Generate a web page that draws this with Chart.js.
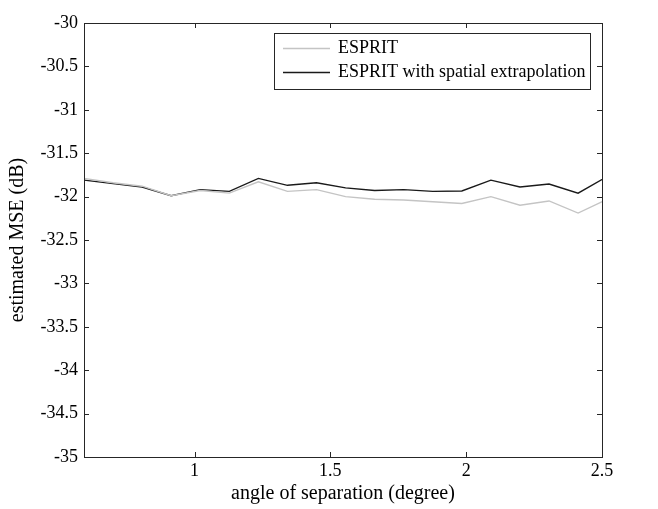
<!DOCTYPE html>
<html><head><meta charset="utf-8">
<script src="https://cdn.jsdelivr.net/npm/chart.js@4.4.0/dist/chart.umd.min.js"></script>
<style>html,body{margin:0;padding:0;background:#fff;}</style>
</head><body>
<canvas id="c" width="658" height="509"></canvas>
<script>
const angles = [0.593,0.700,0.807,0.914,1.021,1.128,1.235,1.342,1.449,1.556,1.663,1.770,1.877,1.984,2.091,2.198,2.305,2.412,2.519];
const esprit = [-31.79,-31.84,-31.88,-31.99,-31.93,-31.96,-31.83,-31.94,-31.92,-32.00,-32.03,-32.04,-32.06,-32.08,-32.00,-32.10,-32.05,-32.19,-32.03];
const espritExtrap = [-31.81,-31.85,-31.89,-31.99,-31.92,-31.94,-31.79,-31.87,-31.84,-31.90,-31.93,-31.92,-31.94,-31.935,-31.81,-31.89,-31.855,-31.96,-31.77];
const xTicks = [1, 1.5, 2, 2.5];
const yTicks = [-35, -34.5, -34, -33.5, -33, -32.5, -32, -31.5, -31, -30.5, -30];
const seriesNames = ['ESPRIT', 'ESPRIT with spatial extrapolation'];

const FONT = 'Liberation Serif';
const FS = 18;
const FT = 20;

const boxPlugin = {
  id: 'boxPlugin',
  afterDraw(chart) {
    const ctx = chart.ctx;
    const {left, right, top, bottom} = chart.chartArea;
    const xs = chart.scales.x, ys = chart.scales.y;
    ctx.save();
    ctx.strokeStyle = '#262626';
    ctx.lineWidth = 1;
    ctx.strokeRect(Math.round(left) + 0.5, Math.round(top) + 0.5, Math.round(right - left), Math.round(bottom - top));
    ctx.beginPath();
    xTicks.forEach(v => {
      const px = Math.round(xs.getPixelForValue(v)) + 0.5;
      ctx.moveTo(px, bottom); ctx.lineTo(px, bottom - 5);
      ctx.moveTo(px, top); ctx.lineTo(px, top + 5);
    });
    yTicks.forEach(v => {
      const py = Math.round(ys.getPixelForValue(v)) + 0.5;
      ctx.moveTo(left, py); ctx.lineTo(left + 5, py);
      ctx.moveTo(right, py); ctx.lineTo(right - 5, py);
    });
    ctx.stroke();

    // legend
    const lx = 274, ly = 33, lw = 316, lh = 56;
    ctx.fillStyle = '#fff';
    ctx.fillRect(lx, ly, lw, lh);
    ctx.strokeStyle = '#262626';
    ctx.strokeRect(lx + 0.5, ly + 0.5, lw, lh);
    ctx.font = FS + 'px "' + FONT + '"';
    ctx.textBaseline = 'middle';
    ctx.textAlign = 'left';
    chart.data.datasets.forEach((ds, i) => {
      const y = ly + 15 + i * 24;
      ctx.strokeStyle = ds.borderColor;
      ctx.lineWidth = ds.borderWidth;
      ctx.beginPath();
      ctx.moveTo(283, y + 0.5); ctx.lineTo(330, y + 0.5);
      ctx.stroke();
      ctx.fillStyle = '#000';
      ctx.fillText(ds.label, 338, y);
    });
    ctx.restore();
  }
};

new Chart(document.getElementById('c'), {
  type: 'line',
  data: {
    datasets: [
      { label: seriesNames[0], data: angles.map((a, i) => ({x: a, y: esprit[i]})),
        borderColor: '#c4c4c4', borderWidth: 1.4, pointRadius: 0, tension: 0, fill: false },
      { label: seriesNames[1], data: angles.map((a, i) => ({x: a, y: espritExtrap[i]})),
        borderColor: '#1a1a1a', borderWidth: 1.4, pointRadius: 0, tension: 0, fill: false }
    ]
  },
  options: {
    responsive: false,
    devicePixelRatio: 1,
    animation: false,
    layout: { padding: { left: 0, right: 56, top: 23, bottom: 0 } },
    plugins: { legend: { display: false }, tooltip: { enabled: false } },
    scales: {
      x: {
        type: 'linear', min: 0.593, max: 2.5,
        afterBuildTicks(s) { s.ticks = xTicks.map(v => ({value: v})); },
        afterFit(s) { s.height = 52; },
        grid: { display: false, drawTicks: false },
        border: { display: false },
        ticks: { color: '#000', padding: 3, maxRotation: 0, font: { family: FONT, size: FS }, callback: v => String(v) },
        title: { display: true, text: 'angle of separation (degree)', color: '#000', font: { family: FONT, size: FT }, padding: { top: 0, bottom: 3 } }
      },
      y: {
        type: 'linear', min: -35, max: -30,
        afterBuildTicks(s) { s.ticks = yTicks.map(v => ({value: v})); },
        afterFit(s) { s.width = 84; },
        grid: { display: false, drawTicks: false },
        border: { display: false },
        ticks: { color: '#000', padding: 6, font: { family: FONT, size: FS }, callback: v => String(v) },
        title: { display: true, text: 'estimated MSE (dB)', color: '#000', font: { family: FONT, size: FT }, padding: { top: 6, bottom: 0 } }
      }
    }
  },
  plugins: [boxPlugin]
});
</script>
</body></html>
